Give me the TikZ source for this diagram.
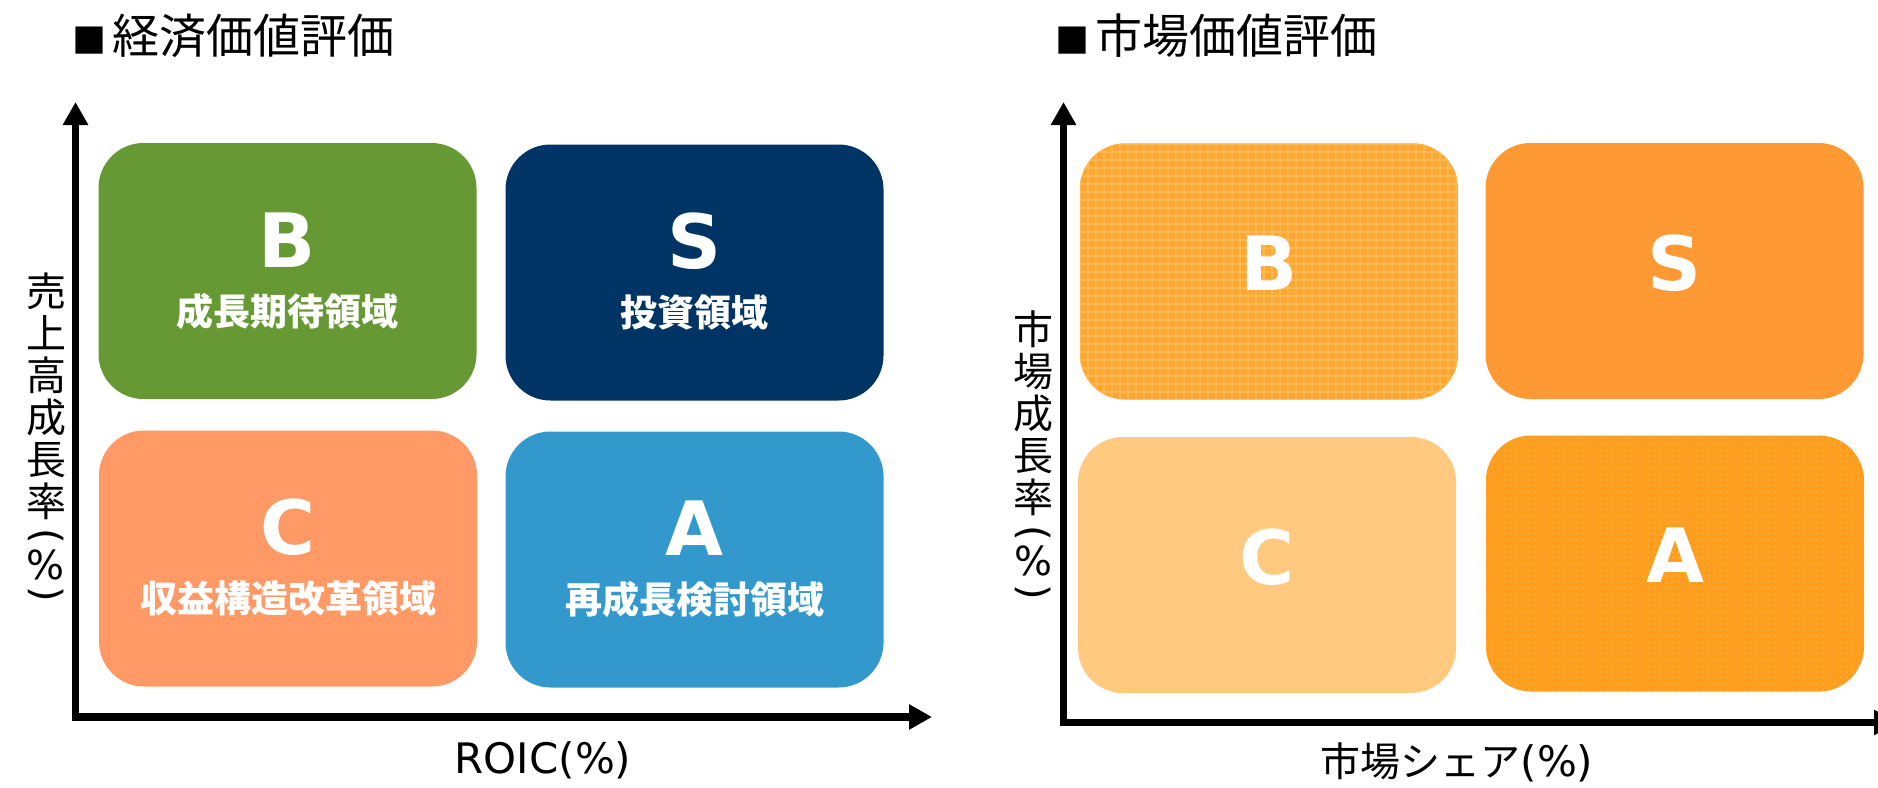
\documentclass[tikz,border=0pt]{standalone}
\usepackage{fontspec}
\setmainfont{DejaVu Sans}
\newfontfamily\cjk{Noto Sans CJK JP}
\usetikzlibrary{arrows.meta}

\definecolor{leafgreen}{HTML}{669933}
\definecolor{deepnavy}{HTML}{003464}
\definecolor{salmon}{HTML}{FF9966}
\definecolor{skyblue}{HTML}{3399CC}
\definecolor{orgrid}{HTML}{FFA631}
\definecolor{orgridline}{HTML}{FFB953}
\definecolor{orsolid}{HTML}{FF9933}
\definecolor{orpale}{HTML}{FFC97F}
\definecolor{ordots}{HTML}{FF9D1C}
\definecolor{ordotsline}{HTML}{FFB44A}

\tikzset{
  quad/.style={rounded corners=45pt, minimum width=378pt, minimum height=256pt, inner sep=0pt},
  letter/.style={text=white, font=\bfseries\fontsize{75}{75}\selectfont, inner sep=0pt},
  area/.style={text=white, font=\cjk\bfseries\fontsize{37}{40}\selectfont, inner sep=0pt},
  axis/.style={line width=7.5pt, {Triangle[length=23pt,width=24pt]}-{Triangle[length=23pt,width=24pt]}},
  heading/.style={font=\cjk\fontsize{47}{50}\selectfont, inner sep=0pt, anchor=west},
  vlabel/.style={font=\cjk\fontsize{40}{42}\selectfont, align=center, inner sep=0pt, anchor=north},
  hlabel/.style={font=\fontsize{42}{44}\selectfont, inner sep=0pt, anchor=base},
  gridtex/.style={draw=orgridline, line width=1.2pt},
  dottex/.style={draw=ordotsline, line width=1.5pt, dash pattern=on 1.5pt off 4.5pt},
}

\begin{document}
\begin{tikzpicture}[x=1pt, y=-1pt]
        \useasboundingbox (0,0) rectangle (1878,787);
        % Titles
        \node[heading] (tEco) at (72,36) {{\fontsize{34}{34}\selectfont ■}\hspace{6pt}経済価値評価};
        \node[heading] (tMkt) at (1055,36) {{\fontsize{34}{34}\selectfont ■}\hspace{6pt}市場価値評価};
        % Axes
        \coordinate (eY) at (75.5,102);
        \coordinate (eX) at (932,717);
        \coordinate (mY) at (1063.5,102);
        \coordinate (mX) at (1897,722.5);
        \draw[axis] (eY) |- (eX);
        \draw[axis] (mY) |- (mX);
        % Axis labels
        \node[vlabel] (eYlab) at (46,273) {売\\上\\高\\成\\長\\率\\[-10pt]\smash{\rotatebox[origin=c]{-90}{\normalfont(}}\\[-11pt]\smash{\normalfont\%}\\[-15pt]\smash{\rotatebox[origin=c]{-90}{\normalfont)}}};
        \node[vlabel] (mYlab) at (1033,310) {市\\場\\成\\長\\率\\[-8pt]\smash{\rotatebox[origin=c]{-90}{\normalfont(}}\\[-13pt]\smash{\normalfont\%}\\[-12pt]\smash{\rotatebox[origin=c]{-90}{\normalfont)}}};
        \node[hlabel] (eXlab) at (543,773) {ROIC(\%)};
        \node[hlabel] (mXlab) at (1457,776) {{\cjk\fontsize{40}{44}\selectfont 市場シェア}(\%)};
        % Economic value boxes
        \node[quad, fill=leafgreen] (eB) at (287.5,271) {};
        \node[quad, fill=deepnavy] (eS) at (694.5,272.5) {};
        \node[quad, fill=salmon] (eC) at (288,558.5) {};
        \node[quad, fill=skyblue] (eA) at (694.5,559.5) {};
        \node[letter] (eBl) at ([yshift=31pt]eB.center) {B};
        \node[area] (eBt) at ([yshift=-40pt]eB.center) {成長期待領域};
        \node[letter] (eSl) at ([yshift=31pt]eS.center) {S};
        \node[area] (eSt) at ([yshift=-40pt]eS.center) {投資領域};
        \node[letter] (eCl) at ([yshift=31pt]eC.center) {C};
        \node[area] (eCt) at ([yshift=-40pt]eC.center) {収益構造改革領域};
        \node[letter] (eAl) at ([yshift=31pt]eA.center) {A};
        \node[area] (eAt) at ([yshift=-40pt]eA.center) {再成長検討領域};
        % Market value boxes
        \node[quad, fill=orgrid] (mB) at (1269,271.5) {};
        \node[quad, fill=orsolid] (mS) at (1674.5,271) {};
        \node[quad, fill=orpale] (mC) at (1267,565) {};
        \node[quad, fill=ordots] (mA) at (1675,563.5) {};
        \begin{scope}
            \clip[rounded corners=45pt] (mB.south west) rectangle (mB.north east);
            \draw[gridtex] (mB.south west) grid[step=8pt] (mB.north east);
        \end{scope}
        \begin{scope}
            \clip[rounded corners=45pt] (mA.south west) rectangle (mA.north east);
            \draw[dottex] (mA.south west) grid[xstep=1000pt, ystep=6pt] (mA.north east);
        \end{scope}
        \node[letter] (mBl) at ([yshift=8pt]mB.center) {B};
        \node[letter] (mSl) at ([yshift=8pt]mS.center) {S};
        \node[letter] (mCl) at ([yshift=8pt]mC.center) {C};
        \node[letter] (mAl) at ([yshift=8pt]mA.center) {A};
\end{tikzpicture}
\end{document}
